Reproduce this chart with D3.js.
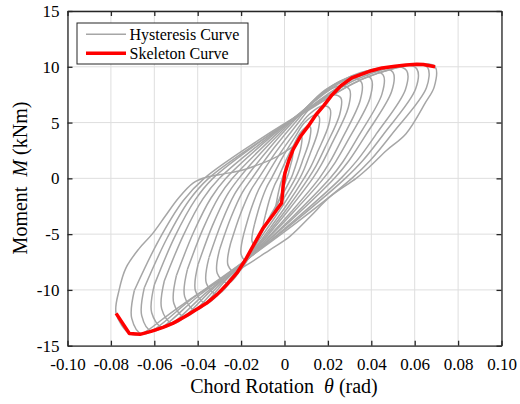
<!DOCTYPE html>
<html><head><meta charset="utf-8">
<script src="https://cdn.jsdelivr.net/npm/d3@7"></script>
<style>body{margin:0;background:#fff}svg{display:block}</style>
</head><body>
<svg id="chart" width="520" height="404"></svg>
<script>
// ---- data (theta in rad, M in kNm) ----
const xTicks=[-0.10,-0.08,-0.06,-0.04,-0.02,0,0.02,0.04,0.06,0.08,0.10];
const xTickLabels=["-0.10","-0.08","-0.06","-0.04","-0.02","0","0.02","0.04","0.06","0.08","0.10"];
const yTicks=[-15,-10,-5,0,5,10,15];
const yTickLabels=["-15","-10","-5","0","5","10","15"];
const legendLabels=["Hysteresis Curve","Skeleton Curve"];
const xTitle="Chord Rotation", xSymbol="θ", xUnit=" (rad)";
const yTitle="Moment", ySymbol="M", yUnit=" (kNm)";

const loop1=[[0,0],[0.001,0.9],[0.002,1.6],[0.003,2.2],[0.004,2.6],[0.0036,1.8],[0.0024,0.9],[0.0017,0.36],[0.001,0],[-0.0005,-0.86],[-0.002,-1.66],[-0.0035,-2.43],[-0.005,-3.2],[-0.0038,-2.3]];
const loop2=[[-0.0038,-2.3],[-0.0028,-1.27],[-0.0018,-0.46],[-0.001,0],[0.0011,1.25],[0.0033,2.36],[0.0054,3.34],[0.0075,3.8],[0.008,3.7],[0.0075,2.7],[0.0055,1.35],[0.0041,0.54],[0.003,0],[-0.0003,-1.22],[-0.0035,-2.34],[-0.0068,-3.42],[-0.010,-4.5],[-0.0088,-3.3]];
const loop3=[[-0.0088,-3.3],[-0.0068,-1.82],[-0.0047,-0.66],[-0.003,0],[0.0005,1.55],[0.004,2.91],[0.0075,4.14],[0.011,4.7],[0.012,4.55],[0.0114,3.35],[0.0085,1.68],[0.0066,0.67],[0.005,0],[0.0003,-1.59],[-0.0045,-3.07],[-0.0093,-4.48],[-0.014,-5.9],[-0.015,-5.6],[-0.0138,-4.1]];
const loop4=[[-0.0138,-4.1],[-0.0111,-2.26],[-0.0083,-0.82],[-0.006,0],[-0.0009,1.88],[0.0043,3.53],[0.0094,5.02],[0.0145,5.7],[0.016,5.5],[0.0154,4.2],[0.0116,2.1],[0.0091,0.84],[0.007,0],[0.0008,-1.97],[-0.0055,-3.8],[-0.0118,-5.55],[-0.018,-7.3],[-0.020,-6.8],[-0.0188,-5.0]];
const loop5=[[-0.0188,-5.0],[-0.0154,-2.75],[-0.0119,-1.0],[-0.009,0],[-0.0023,2.15],[0.0045,4.03],[0.0113,5.72],[0.018,6.5],[0.021,6.2],[0.0204,4.8],[0.0153,2.4],[0.0119,0.96],[0.009,0],[0.0013,-2.3],[-0.0065,-4.42],[-0.0143,-6.46],[-0.022,-8.5],[-0.026,-7.8],[-0.0248,-5.8]];
const loop6=[[-0.0248,-5.8],[-0.0203,-3.19],[-0.0158,-1.16],[-0.012,0],[-0.0035,2.48],[0.005,4.65],[0.0135,6.6],[0.022,7.5],[0.026,7.2],[0.0254,5.7],[0.0189,2.85],[0.0146,1.14],[0.011,0],[0.0018,-2.54],[-0.0075,-4.89],[-0.0168,-7.14],[-0.026,-9.4],[-0.031,-8.5],[-0.0298,-6.3]];
const loop7=[[-0.0298,-6.3],[-0.0246,-3.47],[-0.0194,-1.26],[-0.015,0],[-0.0048,2.74],[0.0055,5.15],[0.0158,7.3],[0.026,8.3],[0.030,7.95],[0.0294,6.35],[0.022,3.18],[0.0171,1.27],[0.013,0],[0.002,-2.81],[-0.009,-5.41],[-0.020,-7.9],[-0.031,-10.4],[-0.036,-9.4],[-0.0348,-7.1]];
const loop8=[[-0.0348,-7.1],[-0.0289,-3.91],[-0.023,-1.42],[-0.018,0],[-0.0058,2.97],[0.0065,5.58],[0.0188,7.92],[0.031,9.0],[0.0355,8.6],[0.0349,7.0],[0.0264,3.5],[0.0207,1.4],[0.016,0],[0.003,-3.02],[-0.010,-5.82],[-0.023,-8.51],[-0.036,-11.2],[-0.041,-10.1],[-0.0398,-7.7]];
const loop9=[[-0.0398,-7.7],[-0.0332,-4.24],[-0.0266,-1.54],[-0.021,0],[-0.007,3.07],[0.007,5.77],[0.021,8.18],[0.035,9.3],[0.040,8.9],[0.0394,7.2],[0.0298,3.6],[0.0234,1.44],[0.018,0],[0.0033,-3.19],[-0.0115,-6.14],[-0.0263,-8.97],[-0.041,-11.8],[-0.046,-10.6],[-0.0448,-8.2]];
const loop10=[[-0.0448,-8.2],[-0.0375,-4.51],[-0.0302,-1.64],[-0.024,0],[-0.008,3.18],[0.008,5.98],[0.024,8.49],[0.040,9.65],[0.0455,9.25],[0.0449,7.55],[0.0341,3.78],[0.027,1.51],[0.021,0],[0.0043,-3.35],[-0.0125,-6.45],[-0.0293,-9.42],[-0.046,-12.4],[-0.051,-11.2],[-0.0498,-8.7]];
const loop11=[[-0.0498,-8.7],[-0.0418,-4.79],[-0.0338,-1.74],[-0.027,0],[-0.009,3.27],[0.009,6.14],[0.027,8.71],[0.045,9.9],[0.050,9.5],[0.0494,7.8],[0.0375,3.9],[0.0296,1.56],[0.023,0],[0.0044,-3.51],[-0.0143,-6.76],[-0.0329,-9.88],[-0.0515,-13.0],[-0.0566,-11.7],[-0.0554,-9.2]];
const loop12=[[-0.0554,-9.2],[-0.0465,-5.06],[-0.0376,-1.84],[-0.030,0],[-0.0098,3.32],[0.0105,6.23],[0.0308,8.84],[0.051,10.05],[0.0563,9.65],[0.0557,7.95],[0.0423,3.98],[0.0334,1.59],[0.026,0],[0.0055,-3.6],[-0.015,-6.94],[-0.0355,-10.15],[-0.056,-13.35],[-0.0612,-12.05],[-0.060,-9.55]];
const loop13=[[-0.060,-9.55],[-0.0506,-5.25],[-0.0411,-1.91],[-0.033,0],[-0.0108,3.35],[0.0115,6.29],[0.0338,8.93],[0.056,10.15],[0.061,9.8],[0.0604,8.0],[0.0458,4.0],[0.0361,1.6],[0.028,0],[0.0058,-3.7],[-0.0165,-7.12],[-0.0388,-10.41],[-0.061,-13.7],[-0.0658,-12.3],[-0.0646,-9.8]];
const loop14=[[-0.0646,-9.8],[-0.0542,-5.39],[-0.0439,-1.96],[-0.035,0],[-0.011,3.37],[0.013,6.34],[0.037,8.99],[0.061,10.22],[0.066,9.92],[0.0654,8.12],[0.0499,4.06],[0.0396,1.62],[0.031,0],[0.0069,-3.77],[-0.0173,-7.25],[-0.0414,-10.6],[-0.0655,-13.95],[-0.0704,-12.55],[-0.0692,-10.05]];
const loop15=[[-0.0692,-10.05],[-0.0579,-5.53],[-0.0467,-2.01],[-0.037,0],[-0.0123,3.38],[0.0125,6.35],[0.0373,9.01],[0.062,10.24],[0.0694,10.0],[0.069,8.2],[0.065,6.8],[0.056,4.0],[0.047,2.5],[0.039,1.0],[0.033,0],[0.021,-1.65],[0.012,-3.4],[0.0025,-5.2],[-0.0067,-6.4],[-0.016,-7.6],[-0.029,-9.1],[-0.0417,-10.6],[-0.054,-12.3],[-0.0666,-13.98],[-0.0715,-13.9],[-0.0776,-12.1],[-0.0762,-10.0],[-0.073,-8.0],[-0.067,-6.3],[-0.061,-5.0],[-0.055,-3.4],[-0.049,-1.8],[-0.042,-0.4],[-0.036,0.1],[-0.028,0.4],[-0.020,0.7],[-0.011,1.3],[-0.003,2.0],[0.005,3.0]];
const hysteresisLoops=[loop1,loop2,loop3,loop4,loop5,loop6,loop7,loop8,loop9,loop10,loop11,loop12,loop13,loop14,loop15];

const skeletonTheta=[-0.0776,-0.0715,-0.0666,-0.0615,-0.056,-0.0515,-0.046,-0.041,-0.036,-0.031,-0.026,-0.022,-0.018,-0.014,-0.010,-0.005,-0.0013,-0.0006,0.0002,0.002,0.004,0.0075,0.011,0.0145,0.018,0.022,0.026,0.031,0.035,0.040,0.045,0.051,0.056,0.061,0.064,0.0694];
const skeletonM=[-12.1,-13.9,-13.98,-13.72,-13.35,-13.0,-12.4,-11.8,-11.2,-10.4,-9.4,-8.5,-7.3,-5.9,-4.5,-3.2,-2.2,-0.6,0.45,1.6,2.6,3.8,4.7,5.7,6.5,7.5,8.3,9.0,9.3,9.65,9.9,10.05,10.15,10.22,10.2,10.0];

// ---- drawing ----
const svg=d3.select("#chart");
const font='"Liberation Serif","Times New Roman",serif';
const P={l:67.5,r:501.5,t:11,b:345.7};
const x=d3.scaleLinear().domain([-0.1,0.1]).range([P.l,P.r]);
const y=d3.scaleLinear().domain([-15,15]).range([P.b,P.t]);
const axisColor="#262626";

svg.append("rect").attr("width",520).attr("height",404).attr("fill","#fff");

// grid
const grid=svg.append("g").attr("stroke","#dedede").attr("stroke-width",1);
grid.selectAll(".gx").data(xTicks).join("line")
  .attr("x1",d=>x(d)).attr("x2",d=>x(d)).attr("y1",P.t).attr("y2",P.b);
grid.selectAll(".gy").data(yTicks).join("line")
  .attr("y1",d=>y(d)).attr("y2",d=>y(d)).attr("x1",P.l).attr("x2",P.r);

// hysteresis
const line=d3.line().x(d=>x(d[0])).y(d=>y(d[1])).curve(d3.curveCatmullRom.alpha(0.5));
svg.append("g").selectAll("path").data(hysteresisLoops).join("path")
  .attr("d",line).attr("fill","none").attr("stroke","#a6a6a6").attr("stroke-width",1.5)
  .attr("stroke-linejoin","round");

// skeleton
const skel=skeletonTheta.map((t,i)=>[t,skeletonM[i]]);
svg.append("path").datum(skel)
  .attr("d",d3.line().x(d=>x(d[0])).y(d=>y(d[1])))
  .attr("fill","none").attr("stroke","#ff0000").attr("stroke-width",3.5).attr("stroke-linejoin","round");

// axes
function styleAxis(g){
  g.selectAll("path.domain").attr("stroke",axisColor).attr("stroke-width",1.3);
  g.selectAll(".tick line").attr("stroke",axisColor).attr("stroke-width",1.3);
  g.selectAll("text").attr("fill","#000").attr("font-family",font).attr("font-size",17);
}
svg.append("g").attr("transform",`translate(0,${P.b})`)
  .call(d3.axisBottom(x).tickValues(xTicks).tickFormat((d,i)=>xTickLabels[i]).tickSizeInner(-5).tickSizeOuter(0).tickPadding(12))
  .call(styleAxis);
svg.append("g").attr("transform",`translate(0,${P.t})`)
  .call(d3.axisTop(x).tickValues(xTicks).tickFormat("").tickSizeInner(-5).tickSizeOuter(0))
  .call(styleAxis);
svg.append("g").attr("transform",`translate(${P.l},0)`)
  .call(d3.axisLeft(y).tickValues(yTicks).tickFormat((d,i)=>yTickLabels[i]).tickSizeInner(-5).tickSizeOuter(0).tickPadding(8))
  .call(styleAxis);
svg.append("g").attr("transform",`translate(${P.r},0)`)
  .call(d3.axisRight(y).tickValues(yTicks).tickFormat("").tickSizeInner(-5).tickSizeOuter(0))
  .call(styleAxis);

// axis titles
const xt=svg.append("text").attr("x",284).attr("y",393).attr("text-anchor","middle")
  .attr("font-family",font).attr("font-size",20).attr("fill","#000");
xt.append("tspan").text(xTitle+"\u00A0\u00A0");
xt.append("tspan").attr("font-style","italic").text(xSymbol);
xt.append("tspan").text(xUnit);

const yt=svg.append("text").attr("transform","translate(27,178) rotate(-90)").attr("text-anchor","middle")
  .attr("font-family",font).attr("font-size",20).attr("fill","#000");
yt.append("tspan").text(yTitle+"\u00A0\u00A0");
yt.append("tspan").attr("font-style","italic").text(ySymbol);
yt.append("tspan").text(yUnit);

// legend
const lg=svg.append("g");
lg.append("rect").attr("x",77).attr("y",23).attr("width",171).attr("height",41)
  .attr("fill","#fff").attr("stroke",axisColor).attr("stroke-width",1);
const legendStyles=[{c:"#a6a6a6",w:1.5},{c:"#ff0000",w:3.5}];
legendLabels.forEach((lab,i)=>{
  const yy=34.3+i*19;
  lg.append("line").attr("x1",86).attr("x2",126).attr("y1",yy).attr("y2",yy)
    .attr("stroke",legendStyles[i].c).attr("stroke-width",legendStyles[i].w);
  lg.append("text").attr("x",129.5).attr("y",yy+5.3).text(lab)
    .attr("font-family",font).attr("font-size",16).attr("fill","#000");
});
</script>
</body></html>
